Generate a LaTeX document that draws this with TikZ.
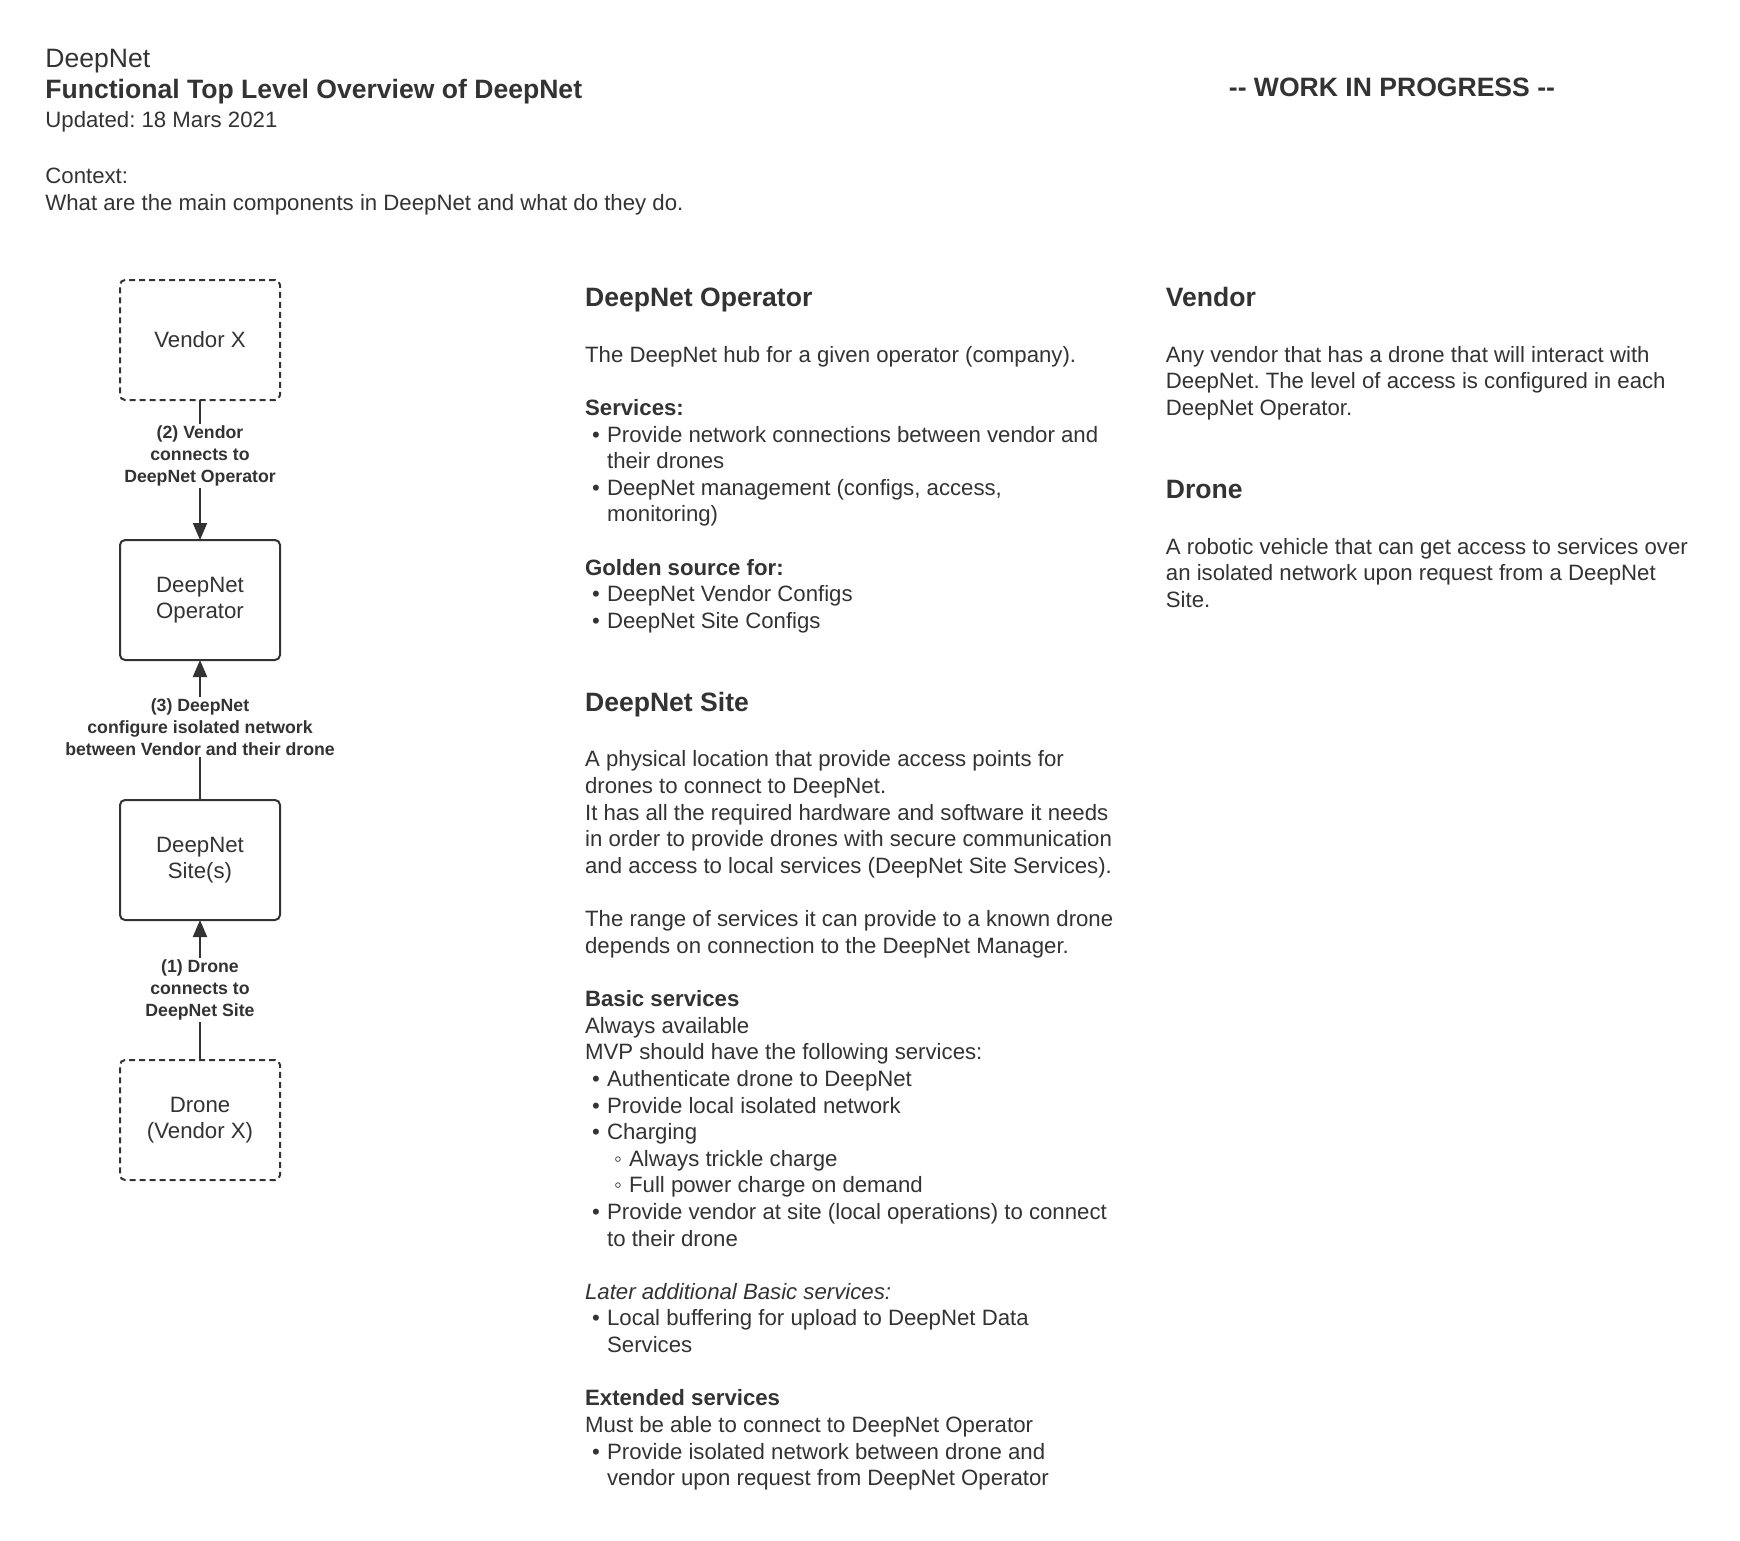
\documentclass[tikz,border=0pt]{standalone}
\usepackage{fontspec}
\setmainfont{Liberation Sans}
\usepackage{xcolor}
\usepackage{tikz}
\usetikzlibrary{positioning, arrows.meta}
\definecolor{ink}{HTML}{333333}
\frenchspacing
\newcommand\bodyf{\fontsize{11.1pt}{13.31pt}\selectfont}
\newcommand\headf{\fontsize{13.28pt}{16pt}\selectfont\bfseries}
\newcommand\plainhf{\fontsize{13.28pt}{16pt}\selectfont}
\newcommand\lblf{\fontsize{8.85pt}{10.8pt}\selectfont\bfseries}
\newcommand\bul{\hspace*{3.5pt}\makebox[7.5pt][l]{\textbullet}}
\newcommand\cont{\hspace*{11pt}}
\newcommand\sbul{\hspace*{14.5pt}\makebox[7.5pt][l]{◦}}
\tikzset{
  box/.style = {rectangle, rounded corners=2.5pt, minimum width=80pt, minimum height=60pt, draw=ink, line width=1pt, outer sep=0pt, align=center, font=\bodyf, text=ink},
  dbox/.style = {box, dash pattern=on 3pt off 2pt},
  lbl/.style = {fill=white, inner sep=1pt, align=center, font=\lblf, text=ink},
  arrow/.style = {draw=ink, line width=1pt, -{Triangle[length=8.5pt,width=7pt]}},
  hd/.style = {anchor=base west, inner sep=0pt, font=\headf, text=ink},
  txt/.style = {anchor=north west, inner sep=0pt, align=left, font=\bodyf, text=ink}
}

\begin{document}
\begin{tikzpicture}[x=0.5pt, y=-0.5pt, node distance=70pt]
   \fill[white] (0,0) rectangle (1740,1541);
   % header
   \node (name) [hd, font=\plainhf] at (45,68) {DeepNet};
   \node (title) [hd] at (45,98) {Functional Top Level Overview of DeepNet};
   \node (upd) [hd, font=\bodyf] at (45,127) {Updated: 18 Mars 2021};
   \node (ctx) [txt] at (45,164.4) {\strut Context:\\What are the main components in DeepNet and what do they do.};
   \node (wip) [hd] at (1228.5,97) {-{}- WORK IN PROGRESS -{}-};
   % component chain
   \node (vendor) [dbox] at (200,340) {Vendor X};
   \node (oper) [box, below=of vendor] {DeepNet\\Operator};
   \node (site) [box, below=of oper] {DeepNet\\Site(s)};
   \node (drone) [dbox, below=of site] {Drone\\(Vendor X)};
   \draw [arrow] (vendor) -- node[lbl, pos=0.4] {(2) Vendor\\connects to\\DeepNet Operator} (oper);
   \draw [arrow] (site) -- node[lbl, pos=0.52] {(3) DeepNet\\configure isolated network\\between Vendor and their drone} (oper);
   \draw [arrow] (drone) -- node[lbl] {(1) Drone\\connects to\\DeepNet Site} (site);
   % operator
   \node (h_op) [hd] at (584.7,306.8) {DeepNet Operator};
   \node (t_op) [txt] at (584.7,343.2) {\strut The DeepNet hub for a given operator (company).\\[\baselineskip]
      \textbf{Services:}\\
      \bul Provide network connections between vendor and\\
      \cont their drones\\
      \bul DeepNet management (configs, access,\\
      \cont monitoring)\\[\baselineskip]
      \textbf{Golden source for:}\\
      \bul DeepNet Vendor Configs\\
      \bul DeepNet Site Configs};
   % site
   \node (h_site) [hd] at (584.7,711.5) {DeepNet Site};
   \node (t_site) [txt] at (584.7,747.9) {\strut A physical location that provide access points for\\
      drones to connect to DeepNet.\\
      It has all the required hardware and software it needs\\
      in order to provide drones with secure communication\\
      and access to local services (DeepNet Site Services).\\[\baselineskip]
      The range of services it can provide to a known drone\\
      depends on connection to the DeepNet Manager.\\[\baselineskip]
      \textbf{Basic services}\\
      Always available\\
      MVP should have the following services:\\
      \bul Authenticate drone to DeepNet\\
      \bul Provide local isolated network\\
      \bul Charging\\
      \sbul Always trickle charge\\
      \sbul Full power charge on demand\\
      \bul Provide vendor at site (local operations) to connect\\
      \cont to their drone\\[\baselineskip]
      \textit{Later additional Basic services:}\\
      \bul Local buffering for upload to DeepNet Data\\
      \cont Services\\[\baselineskip]
      \textbf{Extended services}\\
      Must be able to connect to DeepNet Operator\\
      \bul Provide isolated network between drone and\\
      \cont vendor upon request from DeepNet Operator};
   % vendor and drone
   \node (h_vend) [hd] at (1165.5,306.8) {Vendor};
   \node (t_vend) [txt] at (1165.5,343.2) {\strut Any vendor that has a drone that will interact with\\
      DeepNet. The level of access is configured in each\\
      DeepNet Operator.};
   \node (h_drone) [hd] at (1165.5,498.7) {Drone};
   \node (t_drone) [txt] at (1165.5,535.0) {\strut A robotic vehicle that can get access to services over\\
      an isolated network upon request from a DeepNet\\
      Site.};
\end{tikzpicture}
\end{document}
